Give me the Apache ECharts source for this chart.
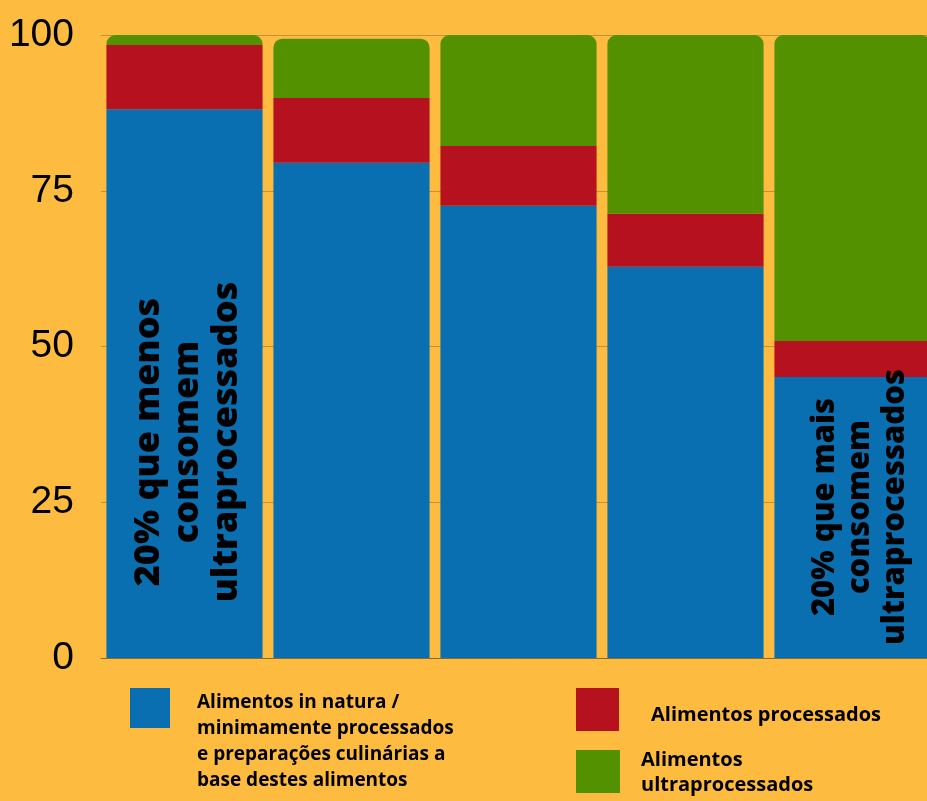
<!DOCTYPE html>
<html>
<head>
<meta charset="utf-8">
<script src="https://cdn.jsdelivr.net/npm/echarts@6/dist/echarts.min.js"></script>
<style>
html,body{margin:0;padding:0;background:#FDBB40;overflow:hidden;}
#chart{width:936px;height:801px;}
</style>
</head>
<body>
<div id="chart"></div>
<script>
// Data
var categories = ['Q1', 'Q2', 'Q3', 'Q4', 'Q5'];
var inNatura = [88.1, 79.5, 72.6, 62.8, 45.1];
var processados = [10.3, 10.4, 9.6, 8.5, 5.8];
var ultraprocessados = [1.6, 9.5, 17.8, 28.7, 49.1];
var yTicks = [0, 25, 50, 75, 100];
var seriesNames = [
  'Alimentos in natura / minimamente processados e preparações culinárias a base destes alimentos',
  'Alimentos processados',
  'Alimentos ultraprocessados'
];
var legendTexts = [
  'Alimentos in natura /\nminimamente processados\ne preparações culinárias a\nbase destes alimentos',
  'Alimentos processados',
  'Alimentos\nultraprocessados'
];
var annotations = [
  '20% que menos\nconsomem\nultraprocessados',
  '20% que mais\nconsomem\nultraprocessados'
];

var colors = ['#0A6FB0', '#B5111F', '#539100'];
var chart = echarts.init(document.getElementById('chart'), null, {renderer: 'canvas'});

function legendFmt(i) {
  return function () {
    return '{s| }\n' + legendTexts[i].split('\n').map(function (l) { return '{t|' + l + '}'; }).join('\n');
  };
}
function legendText(fs, lh, shift, padLeft) {
  return {
    fontFamily: 'Open Sans', fontWeight: 'bold', fontSize: fs, color: '#000',
    padding: [0, 0, 0, padLeft],
    rich: {
      s: {fontSize: 1, lineHeight: shift, height: shift},
      t: {fontFamily: 'Open Sans', fontWeight: 'bold', fontSize: fs, lineHeight: lh, color: '#000'}
    }
  };
}

var option = {
  backgroundColor: '#FDBB40',
  animation: false,
  grid: {left: 101, right: 0, top: 35, bottom: 143, containLabel: false},
  xAxis: {
    type: 'category',
    data: categories,
    axisLine: {show: true, lineStyle: {color: '#8A6A2E', width: 1}},
    axisTick: {show: false},
    axisLabel: {show: false}
  },
  yAxis: {
    type: 'value',
    min: yTicks[0],
    max: yTicks[yTicks.length - 1],
    interval: 25,
    axisLine: {show: false},
    axisTick: {show: false},
    axisLabel: {color: '#000', fontSize: 39, fontFamily: 'Liberation Sans', margin: 27},
    splitLine: {lineStyle: {color: '#C4903A', width: 1}}
  },
  legend: [
    {
      data: [seriesNames[0]], left: 130, top: 622, padding: 0, itemWidth: 40, itemHeight: 40,
      icon: 'rect', formatter: legendFmt(0), selectedMode: false,
      textStyle: legendText(19, 26, 68, 22)
    },
    {
      data: [seriesNames[1]], left: 576, top: 688, padding: 0, itemWidth: 43, itemHeight: 43,
      icon: 'rect', formatter: legendFmt(1), selectedMode: false,
      textStyle: legendText(20, 26, 12, 27)
    },
    {
      data: [seriesNames[2]], left: 576, top: 745, padding: 0, itemWidth: 44, itemHeight: 43,
      icon: 'rect', formatter: legendFmt(2), selectedMode: false,
      textStyle: legendText(20, 25, 3, 16)
    }
  ],
  series: [
    {name: seriesNames[0], type: 'bar', stack: 't', data: inNatura, barCategoryGap: '6.5%',
     itemStyle: {color: colors[0]}},
    {name: seriesNames[1], type: 'bar', stack: 't', data: processados,
     itemStyle: {color: colors[1]}},
    {name: seriesNames[2], type: 'bar', stack: 't', data: ultraprocessados,
     itemStyle: {color: colors[2], borderRadius: [9, 9, 0, 0]}}
  ],
  graphic: [
    {type: 'text', x: 188, y: 442, rotation: Math.PI / 2, z: 100,
     style: {text: annotations[0], fill: '#000', font: '800 36px "Open Sans"', lineHeight: 39, align: 'center', verticalAlign: 'middle'}},
    {type: 'text', x: 860, y: 507, rotation: Math.PI / 2, z: 100,
     style: {text: annotations[1], fill: '#000', font: '800 31px "Open Sans"', lineHeight: 35, align: 'center', verticalAlign: 'middle'}}
  ]
};
chart.setOption(option);
</script>
</body>
</html>
